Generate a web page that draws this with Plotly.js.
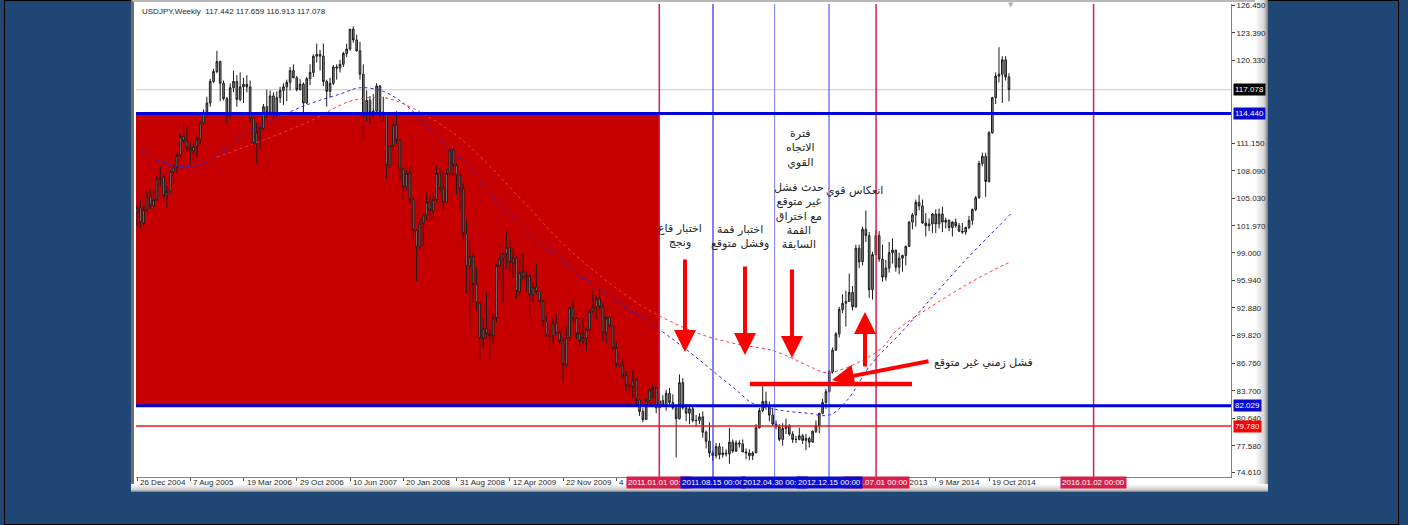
<!DOCTYPE html>
<html><head><meta charset="utf-8">
<script src="https://cdn.plot.ly/plotly-3.0.1.min.js"></script>
<style>
html,body{margin:0;padding:0;}
body{width:1408px;height:525px;background:#1f4776;position:relative;overflow:hidden;}
#outer{position:absolute;left:4px;top:0;width:1393px;height:523px;border:1px solid #000;}
#win{position:absolute;left:131px;top:0;width:1137px;height:492px;background:#fff;box-sizing:border-box;border-left:3px solid #6e6e6e;border-top:2px solid #b8b8b8;}
#winR{position:absolute;left:1255px;top:0;width:13px;height:492px;background:linear-gradient(to right,#ffffff,#d6d6d6 70%,#7c7c7c);}
#winB{position:absolute;left:131px;top:484px;width:1137px;height:8px;background:linear-gradient(to bottom,#ffffff,#cfcfcf 70%,#7a7a7a);}
#chart{position:absolute;left:0;top:0;width:1408px;height:525px;}
</style></head>
<body>
<div id="outer"></div>
<div id="win"></div>
<div id="winR"></div>
<div id="winB"></div>
<div id="chart"></div>
<script>
// ---- data: bi-weekly USDJPY bars [open, high, low, close], first bar 2004-12-26 ----
const bars2005 = [
[103.5,104.3,101.9,104.0],[104.0,104.9,101.7,102.3],[102.3,104.2,102.0,103.8],[103.8,105.8,103.5,105.2],
[105.2,106.0,103.8,104.2],[104.2,105.8,103.6,104.9],[104.9,107.6,104.7,107.2],[107.2,108.6,106.4,107.4],
[107.4,107.6,104.7,105.3],[105.3,106.4,104.0,105.8],[105.8,108.2,105.6,108.0],[108.0,109.0,106.6,108.5],
[108.5,110.0,107.8,109.8],[109.8,112.2,109.6,111.9],[111.9,113.7,110.8,111.4],[111.4,113.0,110.2,110.6],
[110.6,111.2,108.8,110.3],[110.3,111.4,109.2,110.8],[110.8,111.9,109.6,111.6],[111.6,113.6,111.0,113.4],
[113.4,114.9,113.0,114.6],[114.6,116.3,114.2,115.6],[115.6,118.3,115.2,118.0],[118.0,119.4,117.8,119.1],
[119.1,121.4,118.9,120.2],[120.2,120.3,115.8,117.8],[117.8,118.1,115.9,116.1]];
const bars2006 = [
[116.1,116.3,113.4,114.2],[114.2,117.8,113.8,117.3],[117.3,119.2,116.8,118.0],[118.0,118.7,115.2,116.0],
[116.0,119.0,115.8,117.4],[117.4,118.4,115.6,117.7],[117.7,118.7,116.8,117.4],[117.4,118.1,113.5,113.9],
[113.9,114.0,110.6,111.1],[111.1,113.4,108.9,112.4],[112.4,113.1,110.5,112.8],[112.8,115.5,112.6,115.2],
[115.2,117.1,113.9,114.6],[114.6,117.0,114.3,116.4],[116.4,116.8,113.8,114.3],[114.3,116.9,114.1,116.2],
[116.2,117.4,115.6,117.0],[117.0,117.8,115.4,117.4],[117.4,118.2,115.8,117.9],[117.9,119.6,117.0,119.2],
[119.2,119.9,118.4,118.4],[118.4,118.6,116.9,117.1],[117.1,118.3,117.0,117.7],[117.7,117.9,114.4,115.6],
[115.6,118.5,115.5,118.3],[118.3,119.9,117.6,119.0]];
const bars2007 = [
[119.0,121.0,118.5,120.8],[120.8,122.2,120.1,121.0],[121.0,121.5,119.2,120.8],[120.8,122.2,117.5,118.0],
[118.0,118.2,115.2,116.9],[116.9,118.4,116.2,117.8],[117.8,119.8,117.6,119.6],[119.6,119.9,118.2,119.5],
[119.5,120.4,119.0,119.9],[119.9,121.3,119.6,121.1],[121.1,122.2,120.7,121.6],[121.6,123.8,121.4,123.8],
[123.8,124.1,122.3,122.6],[122.6,123.2,121.3,121.4],[121.4,122.4,118.2,118.8],[118.8,119.9,111.6,114.3],
[114.3,117.0,113.6,115.9],[115.9,116.4,113.3,114.6],[114.6,116.6,113.9,114.7],[114.7,117.8,114.5,117.5],
[117.5,117.6,113.9,114.6],[114.6,116.3,113.6,114.4],[114.4,114.6,107.2,108.7],[108.7,111.0,108.4,110.9],
[110.9,113.9,110.3,113.2],[113.2,114.7,111.1,111.5]];
const bars2008 = [
[111.5,111.6,107.0,108.3],[108.3,108.3,104.9,106.3],[106.3,108.2,105.9,107.8],[107.8,108.6,104.4,104.9],
[104.9,105.2,100.4,101.5],[101.5,101.6,95.8,99.6],[99.6,103.0,99.3,102.3],[102.3,103.4,99.8,103.2],
[103.2,105.6,102.6,104.6],[104.6,105.4,102.9,103.7],[103.7,105.8,102.9,104.9],[104.9,108.6,104.6,107.8],
[107.8,108.4,105.6,106.1],[106.1,107.9,103.8,104.6],[104.6,108.3,104.6,107.8],[107.8,110.7,107.6,110.4],
[110.4,110.6,107.5,108.7],[108.7,108.9,105.4,107.6],[107.6,108.1,103.5,106.1],[106.1,106.7,100.3,101.1],
[101.1,102.6,94.5,97.5],[97.5,100.5,90.9,98.6],[98.6,99.0,93.5,95.5],[95.5,97.4,92.6,93.4],
[93.4,93.6,87.2,89.5],[89.5,91.7,88.5,90.6]];
const bars2009 = [
[90.6,94.6,89.5,90.0],[90.0,90.6,87.1,89.8],[89.8,92.3,88.9,91.8],[91.8,97.8,91.3,97.6],
[97.6,99.7,95.9,98.4],[98.4,98.9,93.5,98.9],[98.9,101.4,97.2,99.6],[99.6,100.6,96.8,97.9],
[97.9,99.5,96.2,98.4],[98.4,98.6,93.9,94.7],[94.7,98.9,94.2,96.8],[96.8,98.9,95.9,96.3],
[96.3,97.0,94.7,96.4],[96.4,96.6,91.8,94.3],[94.3,95.7,93.6,95.2],[95.2,97.8,94.4,94.7],
[94.7,95.2,92.8,93.6],[93.6,93.8,90.8,91.4],[91.4,92.0,89.7,89.8],[89.8,90.5,88.0,89.8],
[89.8,91.7,88.9,91.2],[91.2,92.3,89.9,90.1],[90.1,90.6,88.9,89.2],[89.2,89.7,84.8,86.6],
[86.6,90.8,86.3,89.6],[89.6,93.0,89.2,92.9]];
const bars2010 = [
[92.9,93.8,91.2,91.7],[91.7,91.8,89.4,90.0],[90.0,91.3,88.6,89.2],[89.2,91.8,88.8,89.6],
[89.6,90.7,88.1,90.5],[90.5,92.8,88.9,92.5],[92.5,94.8,92.2,93.0],[93.0,94.2,91.6,93.9],
[93.9,95.0,92.3,93.0],[93.0,93.4,89.2,90.1],[90.1,92.0,88.9,91.8],[91.8,92.4,90.6,90.9],
[90.9,91.0,88.2,88.4],[88.4,89.2,86.3,86.6],[86.6,88.1,86.2,86.5],[86.5,87.2,85.0,85.4],
[85.4,85.9,83.6,84.3],[84.3,84.5,83.0,84.2],[84.2,86.0,82.9,84.9],[84.9,85.1,82.0,82.7],
[82.7,82.9,80.9,81.4],[81.4,81.8,80.2,80.5],[80.5,82.9,80.5,82.6],[82.6,84.4,82.5,83.8],
[83.8,84.5,82.8,84.0],[84.0,84.1,81.2,81.8]];
const bars2011 = [
[81.8,83.6,81.6,82.6],[82.6,83.2,81.9,82.1],[82.1,83.8,81.5,83.4],[83.4,84.0,82.0,82.4],
[82.4,83.3,81.6,81.8],[81.8,82.0,76.3,80.6],[80.6,85.5,80.5,84.6],[84.6,85.1,81.6,81.8],
[81.8,82.2,80.3,81.2],[81.2,82.2,80.0,81.7],[81.7,82.0,80.2,80.4],[80.4,81.0,79.7,80.4],
[80.4,81.2,80.0,80.8],[80.8,81.4,78.5,79.1],[79.1,79.3,77.3,78.1],[78.1,80.2,76.3,76.8],
[76.8,77.1,75.9,76.5],[76.5,77.9,76.2,77.5],[77.5,77.9,76.1,76.6],[76.6,77.5,76.3,76.8],
[76.8,77.2,76.4,76.7],[76.7,79.6,75.6,78.0],[78.0,78.3,76.8,77.0],[77.0,78.2,76.9,77.9],
[77.9,78.2,77.4,77.8],[77.8,78.3,76.9,76.9]];
const bars2012 = [
[76.9,77.3,76.1,76.8],[76.8,77.2,76.0,76.5],[76.5,77.0,76.0,76.8],[76.8,80.0,76.8,79.6],
[79.6,81.8,79.5,81.5],[81.5,84.2,81.3,82.5],[82.5,83.6,81.6,82.0],[82.0,82.5,80.3,81.0],
[81.0,81.8,79.8,80.0],[80.0,80.4,79.4,79.7],[79.7,80.0,78.1,78.3],[78.3,80.1,77.6,79.5],
[79.5,80.6,78.9,79.8],[79.8,80.0,78.7,78.9],[78.9,79.2,77.9,78.3],[78.3,78.7,77.9,78.3],
[78.3,79.6,78.2,78.7],[78.7,78.9,77.8,78.2],[78.2,78.9,77.1,78.4],[78.4,78.6,77.4,78.0],
[78.0,79.3,77.9,79.2],[79.2,80.4,79.0,79.8],[79.8,81.2,79.0,81.2],[81.2,82.8,81.1,82.4],
[82.4,83.9,81.7,83.6],[83.6,86.0,83.5,85.8],[85.8,88.5,85.6,88.2]];
const bars2013 = [
[88.2,90.2,88.1,90.0],[90.0,93.0,89.6,92.7],[92.7,94.4,92.3,93.4],[93.4,94.8,90.8,93.6],
[93.6,96.7,93.6,94.6],[94.6,95.3,92.6,93.0],[93.0,99.9,92.9,99.5],[99.5,99.9,97.3,98.0],
[98.0,101.9,97.6,101.6],[101.6,103.7,100.2,100.9],[100.9,101.3,94.0,94.9],[94.9,99.1,93.8,98.8],
[98.8,101.5,98.8,100.9],[100.9,101.4,98.0,98.3],[98.3,99.9,95.8,96.3],[96.3,98.2,95.9,97.3],
[97.3,100.2,96.8,99.0],[99.0,100.6,97.8,99.3],[99.3,99.3,96.9,97.4],[97.4,99.0,96.6,98.4],
[98.4,98.8,96.9,98.7],[98.7,99.8,97.6,99.7],[99.7,102.5,99.7,102.4],[102.4,103.4,101.6,103.2],
[103.2,104.9,101.9,104.6],[104.6,105.4,103.7,104.2]];
const bars2014 = [
[104.2,104.9,102.2,102.3],[102.3,103.4,100.8,102.0],[102.0,102.8,101.4,102.2],[102.2,103.4,101.2,103.3],
[103.3,103.8,101.2,102.2],[102.2,103.9,101.7,103.3],[103.3,104.1,101.3,102.4],[102.4,102.9,101.7,102.6],
[102.6,102.7,101.4,101.8],[101.8,102.5,100.8,102.4],[102.4,102.8,101.8,102.0],[102.0,102.3,101.3,101.4],
[101.4,102.3,101.1,101.3],[101.3,101.9,101.0,101.8],[101.8,103.1,101.6,102.6],[102.6,103.9,102.1,103.8],
[103.8,105.3,103.6,105.1],[105.1,109.2,105.0,108.9],[108.9,110.1,108.6,109.7],[109.7,110.1,105.2,106.9],
[106.9,112.5,106.8,112.3],[112.3,116.3,112.2,116.2],[116.2,119.0,115.5,118.6],[118.6,121.8,117.9,118.8],
[118.8,120.8,115.6,120.4],[120.4,120.8,118.1,118.5]];
const bars2015 = [[118.5,118.9,115.8,117.1]];

// moving averages
const maBlueDates = ['2004-12-26','2005-03-06','2005-06-12','2005-09-18','2005-12-25','2006-04-02','2006-07-09','2006-10-15','2007-01-21','2007-04-29','2007-07-22','2007-10-28','2008-01-20','2008-04-27','2008-07-20','2008-10-26','2009-01-18','2009-04-26','2009-07-19','2009-10-25','2010-01-17','2010-04-25','2010-07-18','2010-10-24','2010-12-12','2011-04-28','2011-08-14','2011-11-20','2012-01-29','2012-06-03','2012-09-16','2012-12-16','2013-02-28','2013-06-09','2013-10-20','2014-03-02','2014-07-13','2014-11-23','2015-01-18'];
const maBlue = [110.8,109.5,108.6,108.8,110.3,112.4,113.6,114.8,115.8,116.6,117.3,116.9,115.6,113.2,110.8,108.5,105.6,102.9,100.6,98.7,96.8,95.0,93.4,91.8,90.9,88.2,85.9,83.8,82.3,81.5,81.2,81.0,82.6,86.6,90.3,94.3,98.2,101.8,103.3];
const maRedDates = ['2005-11-27','2006-06-11','2006-12-24','2007-06-10','2007-10-28','2008-03-02','2008-08-31','2009-01-18','2009-06-21','2009-11-22','2010-04-25','2010-09-26','2011-01-02','2011-06-19','2011-11-20','2012-04-29','2012-09-16','2012-12-02','2013-03-03','2013-07-28','2013-09-22','2014-02-16','2014-07-20','2014-11-23','2015-01-18'];
const maRed = [109.6,111.5,113.6,115.8,116.2,115.0,112.0,108.6,104.3,100.0,96.5,93.5,92.0,90.0,88.9,88.1,86.5,85.7,86.3,88.5,90.3,93.0,95.5,97.3,98.0];

// axis ticks and labels
const xTickDates = ['2004-12-26','2005-08-07','2006-03-19','2006-10-29','2007-06-10','2008-01-20','2008-08-31','2009-04-12','2009-11-22','2010-07-04','2011-02-13','2011-09-25','2012-05-06','2012-12-16','2013-07-28','2014-03-09','2014-10-19'];
const xTickLabels = ['26 Dec 2004','7 Aug 2005','19 Mar 2006','29 Oct 2006','10 Jun 2007','20 Jan 2008','31 Aug 2008','12 Apr 2009','22 Nov 2009','4 Jul 2010','13 Feb 2011','25 Sep 2011','6 May 2012','16 Dec 2012','28 Jul 2013','9 Mar 2014','19 Oct 2014'];
const yTickVals = [74.61,77.58,80.64,83.70,86.76,89.82,92.88,95.94,99.00,101.97,105.03,108.09,111.15,120.33,123.39,126.45];
const yTickText = ['74.610','77.580','80.640','83.700','86.760','89.820','92.880','95.940','99.000','101.970','105.030','108.090','111.150','120.330','123.390','126.450'];

// levels and time lines
const hLevels = {resist:114.440, support:82.029, low:79.780, last:117.078};
const redLines = ['2011-01-01','2013-07-01','2016-01-02'];
const redLineLabels = ['2011.01.01 00:00','2013.07.01 00:00','2016.01.02 00:00'];
const blueLines = ['2011-08-15','2012-04-30','2012-12-15'];
const blueLineLabels = ['2011.08.15 00:00','2012.04.30 00:00','2012.12.15 00:00'];
const blueLineColors = ['#2a2ae6','#8c8cf2','#5a5af0'];

// ---- build ----
const allBars = [].concat(bars2005,bars2006,bars2007,bars2008,bars2009,bars2010,bars2011,bars2012,bars2013,bars2014,bars2015);
const dates = [];
const start = Date.UTC(2004,11,26);
for (let i=0;i<allBars.length;i++){ dates.push(new Date(start + i*14*86400000).toISOString().slice(0,10)); }
const open = allBars.map(b=>b[0]), high = allBars.map(b=>b[1]), low = allBars.map(b=>b[2]), close = allBars.map(b=>b[3]);

const PL=136, PR=1231, PT=4, PB=477;
const px = x => (x-PL)/(PR-PL);
const py = y => (PB-y)/(PB-PT);

const candle = {type:'candlestick', x:dates, open:open, high:high, low:low, close:close,
  increasing:{line:{color:'#1c1c1c',width:1}, fillcolor:'#8e8e8e'},
  decreasing:{line:{color:'#1c1c1c',width:1}, fillcolor:'#8e8e8e'},
  whiskerwidth:0, hoverinfo:'skip', showlegend:false};
const blueMA = {type:'scatter', mode:'lines', x:maBlueDates, y:maBlue, line:{color:'#2b2bdc', width:1, dash:'3px,3px', shape:'spline'}, hoverinfo:'skip', showlegend:false};
const redMA = {type:'scatter', mode:'lines', x:maRedDates, y:maRed, line:{color:'#ff3838', width:1, dash:'3px,3px', shape:'spline'}, hoverinfo:'skip', showlegend:false};

const shapes = [];
shapes.push({type:'rect', xref:'x', yref:'y', x0:'2004-12-01', x1:redLines[0], y0:hLevels.support, y1:hLevels.resist, fillcolor:'#c60000', line:{width:0}, layer:'below'});
shapes.push({type:'line', xref:'paper', yref:'y', x0:0, x1:1, y0:hLevels.last, y1:hLevels.last, line:{color:'#c8c8c8', width:1}, layer:'below'});
redLines.forEach(d=>shapes.push({type:'line', xref:'x', yref:'paper', x0:d, x1:d, y0:0, y1:1, line:{color:'#d81e4a', width:1.5}}));
blueLines.forEach((d,i)=>shapes.push({type:'line', xref:'x', yref:'paper', x0:d, x1:d, y0:0, y1:1, line:{color:blueLineColors[i], width:1.2}}));
shapes.push({type:'line', xref:'paper', yref:'y', x0:0, x1:1, y0:hLevels.resist, y1:hLevels.resist, line:{color:'#0000d8', width:3}});
shapes.push({type:'line', xref:'paper', yref:'y', x0:0, x1:1, y0:hLevels.support, y1:hLevels.support, line:{color:'#0000d8', width:3}});
shapes.push({type:'line', xref:'paper', yref:'y', x0:0, x1:1, y0:hLevels.low, y1:hLevels.low, line:{color:'#ff1010', width:1.5}});
shapes.push({type:'line', xref:'paper', yref:'paper', x0:px(750), x1:px(912), y0:py(384), y1:py(384), line:{color:'#ff0000', width:4.5}});

const ann = [];
const small = {family:'Liberation Sans, Arial, sans-serif', size:8, color:'#1e1e1e'};
ann.push({xref:'paper', yref:'paper', x:px(140), y:py(12), xanchor:'left', yanchor:'middle', showarrow:false, text:'USDJPY,Weekly  117.442 117.659 116.913 117.078', font:small});
xTickDates.forEach((d,i)=>ann.push({xref:'x', yref:'paper', x:d, y:py(483), xanchor:'left', yanchor:'middle', xshift:1, showarrow:false, text:xTickLabels[i], font:small}));
redLines.forEach((d,i)=>ann.push({xref:'x', yref:'paper', x:d, y:py(483), xanchor:'center', yanchor:'middle', showarrow:false, text:redLineLabels[i], bgcolor:'#d81e4a', borderpad:1, font:{family:small.family, size:8, color:'#ffffff'}}));
blueLines.forEach((d,i)=>ann.push({xref:'x', yref:'paper', x:d, y:py(483), xanchor:'center', yanchor:'middle', showarrow:false, text:blueLineLabels[i], bgcolor:'#0a0ad0', borderpad:1, font:{family:small.family, size:8, color:'#ffffff'}}));
const priceBox = (v,bg)=>ann.push({xref:'paper', yref:'y', x:1, y:v, xanchor:'left', yanchor:'middle', xshift:2, showarrow:false, text:v.toFixed(3), bgcolor:bg, borderpad:1, font:{family:small.family, size:8, color:'#ffffff'}});
priceBox(hLevels.last,'#000000'); priceBox(hLevels.resist,'#0808d0'); priceBox(hLevels.support,'#0808d0'); priceBox(hLevels.low,'#ff0000');
ann.push({xref:'paper', yref:'paper', x:px(1011), y:py(5), xanchor:'center', yanchor:'middle', showarrow:false, text:'▼', font:{family:'DejaVu Sans', size:7, color:'#b4b4b4'}});

const ar = {family:'DejaVu Sans, sans-serif', size:11, color:'#262626'};
const note = (x,y,t)=>ann.push({xref:'paper', yref:'paper', x:px(x), y:py(y), xanchor:'center', yanchor:'middle', showarrow:false, text:t, font:ar, align:'center'});
note(680,235,'اختبار قاع<br>ونجج');
note(740,236,'اختبار قمة<br>وفشل متوقع');
note(800,148,'فترة<br>الاتجاه<br>القوي');
note(799,216,'حدث فشل<br>غير متوقع<br>مع اختراق<br>القمة<br>السابقة');
note(854,190,'انعكاس قوي');
note(983,362,'فشل زمني غير متوقع');

const arrow = (tx,ty,dx,dy)=>ann.push({xref:'paper', yref:'paper', x:px(tx), y:py(ty), ax:dx, ay:dy, text:'', showarrow:true, arrowhead:2, arrowsize:1.1, arrowwidth:4, arrowcolor:'#ff0000'});
arrow(685,352,0,-94);
arrow(745,355,0,-90);
arrow(792,358,0,-90);
arrow(865,312,0,56);
arrow(832,380,98,-19);

const layout = {width:1408, height:525, margin:{l:PL, r:1408-PR, t:PT, b:525-PB},
  paper_bgcolor:'rgba(0,0,0,0)', plot_bgcolor:'#ffffff', showlegend:false, dragmode:false,
  xaxis:{type:'date', range:['2004-12-21 19:00','2017-08-02'], rangeslider:{visible:false}, showgrid:false, zeroline:false,
    showline:true, linecolor:'#808080', linewidth:1, ticks:'outside', ticklen:3, tickcolor:'#555555', tickvals:xTickDates, showticklabels:false, fixedrange:true},
  yaxis:{side:'right', range:[74.13,126.59], showgrid:false, zeroline:false, showline:true, linecolor:'#808080', linewidth:1,
    ticks:'outside', ticklen:3, tickcolor:'#444444', tickvals:yTickVals, ticktext:yTickText, tickfont:small, fixedrange:true},
  shapes:shapes, annotations:ann};
Plotly.newPlot('chart',[candle,blueMA,redMA],layout,{staticPlot:true, displayModeBar:false});
</script>
</body></html>
